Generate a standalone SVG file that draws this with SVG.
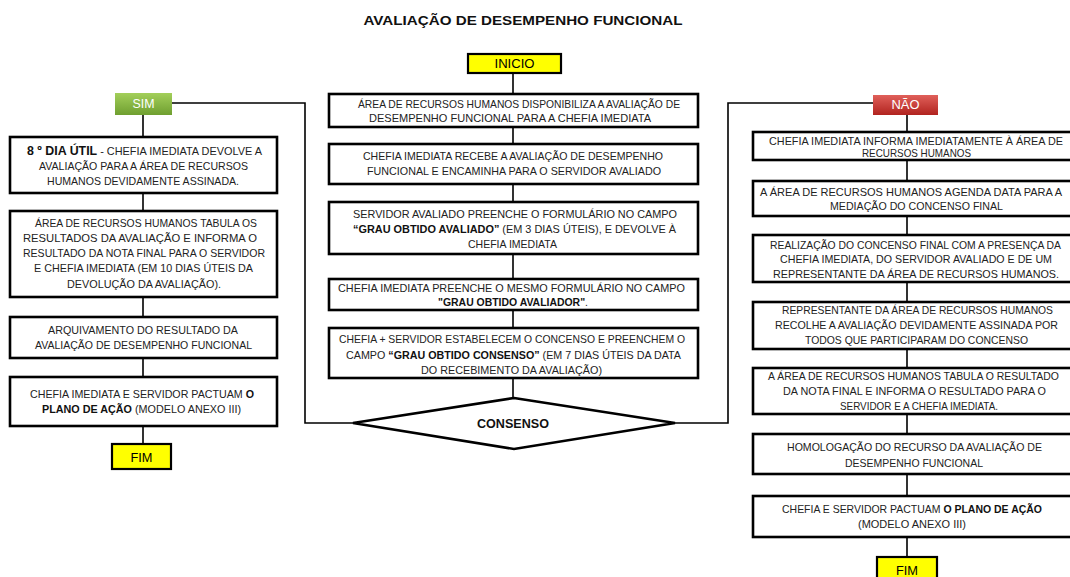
<svg xmlns="http://www.w3.org/2000/svg" width="1070" height="577" viewBox="0 0 1070 577">
<defs>
<linearGradient id="gGreen" x1="0" y1="0" x2="0" y2="1"><stop offset="0" stop-color="#a3cf5a"/><stop offset="1" stop-color="#6f9f30"/></linearGradient>
<linearGradient id="gRed" x1="0" y1="0" x2="0" y2="1"><stop offset="0" stop-color="#e0605a"/><stop offset="1" stop-color="#b1231f"/></linearGradient>
<style>
.box{fill:#fff;stroke:#000;stroke-width:2.6}
.term{fill:#ffff00;stroke:#000;stroke-width:2.2}
.t{font-family:"Liberation Sans",Arial,sans-serif;font-size:11px;fill:#222;text-anchor:middle}
.b{font-weight:bold;fill:#111}
.lbl{font-family:"Liberation Sans",Arial,sans-serif;font-size:12px;text-anchor:middle}
.w{fill:#fff}
.ln{fill:none;stroke:#000;stroke-width:1.6}
</style>
</defs>
<rect width="1070" height="577" fill="#fff"/>
<text x="523" y="25" class="lbl b" font-size="13.5" textLength="319" lengthAdjust="spacingAndGlyphs">AVALIAÇÃO DE DESEMPENHO FUNCIONAL</text>

<g id="connectors">
<path class="ln" d="M513,73V94M513,127V144M513,184V202M513,254V279M513,310V328M513,378V398"/>
<path class="ln" d="M172,103H305V423H353"/>
<path class="ln" d="M143,115V137M143,193V211M143,297V317M143,358V377M143,426V444"/>
<path class="ln" d="M675,423H728V103H873"/>
<path class="ln" d="M907,115V132M907,160V181M907,216V235M907,282V302M907,349V368M907,414V434M907,474V496M907,537V557"/>
</g>

<g id="inicio"><rect class="term" x="468" y="54" width="93" height="19"/><text class="lbl" x="514.5" y="68" textLength="40" lengthAdjust="spacingAndGlyphs">INICIO</text></g>

<g id="c1"><rect class="box" x="329" y="94" width="369" height="33"/>
<text class="t" x="519" y="108" textLength="322" lengthAdjust="spacingAndGlyphs">ÁREA DE RECURSOS HUMANOS DISPONIBILIZA A AVALIAÇÃO DE</text>
<text class="t" x="510" y="122" textLength="282" lengthAdjust="spacingAndGlyphs">DESEMPENHO FUNCIONAL PARA A CHEFIA IMEDIATA</text></g>

<g id="c2"><rect class="box" x="329" y="144" width="369" height="40"/>
<text class="t" x="513" y="160" textLength="300" lengthAdjust="spacingAndGlyphs">CHEFIA IMEDIATA RECEBE A AVALIAÇÃO DE DESEMPENHO</text>
<text class="t" x="514" y="175" textLength="294" lengthAdjust="spacingAndGlyphs">FUNCIONAL E ENCAMINHA PARA O SERVIDOR AVALIADO</text></g>

<g id="c3"><rect class="box" x="329" y="202" width="369" height="52"/>
<text class="t" x="515" y="218" textLength="324" lengthAdjust="spacingAndGlyphs">SERVIDOR AVALIADO PREENCHE O FORMULÁRIO NO CAMPO</text>
<text class="t" x="514.5" y="233" textLength="323" lengthAdjust="spacingAndGlyphs"><tspan class="b">“GRAU OBTIDO AVALIADO”</tspan> (EM 3 DIAS ÚTEIS), E DEVOLVE À</text>
<text class="t" x="512.5" y="248" textLength="89" lengthAdjust="spacingAndGlyphs">CHEFIA IMEDIATA</text></g>

<g id="c4"><rect class="box" x="329" y="279" width="369" height="31"/>
<text class="t" x="511.5" y="292" textLength="347" lengthAdjust="spacingAndGlyphs">CHEFIA IMEDIATA PREENCHE O MESMO FORMULÁRIO NO CAMPO</text>
<text class="t" x="513" y="306" textLength="150" lengthAdjust="spacingAndGlyphs"><tspan class="b">"GRAU OBTIDO AVALIADOR"</tspan>.</text></g>

<g id="c5"><rect class="box" x="329" y="328" width="369" height="50"/>
<text class="t" x="512" y="343" textLength="346" lengthAdjust="spacingAndGlyphs">CHEFIA + SERVIDOR ESTABELECEM O CONCENSO E PREENCHEM O</text>
<text class="t" x="513.5" y="359" textLength="335" lengthAdjust="spacingAndGlyphs">CAMPO <tspan class="b">“GRAU OBTIDO CONSENSO”</tspan> (EM 7 DIAS ÚTEIS DA DATA</text>
<text class="t" x="511.5" y="374" textLength="181" lengthAdjust="spacingAndGlyphs">DO RECEBIMENTO DA AVALIAÇÃO)</text></g>

<g id="consenso"><polygon points="514,398 675,423 514,449 353,423" fill="#fff" stroke="#000" stroke-width="2.6"/>
<text class="lbl b" x="513" y="428" textLength="72" lengthAdjust="spacingAndGlyphs">CONSENSO</text></g>

<g id="sim"><rect x="115" y="93" width="57" height="22" fill="url(#gGreen)"/><text class="lbl w" x="143.5" y="108" textLength="22" lengthAdjust="spacingAndGlyphs">SIM</text></g>

<g id="l1"><rect class="box" x="10" y="137" width="267" height="56"/>
<text class="t" x="144.5" y="155" textLength="235" lengthAdjust="spacingAndGlyphs"><tspan class="b" font-size="12.5">8 º DIA ÚTIL</tspan> - CHEFIA IMEDIATA DEVOLVE A</text>
<text class="t" x="143.5" y="170" textLength="209" lengthAdjust="spacingAndGlyphs">AVALIAÇÃO PARA A ÁREA DE RECURSOS</text>
<text class="t" x="143" y="185" textLength="192" lengthAdjust="spacingAndGlyphs">HUMANOS DEVIDAMENTE ASSINADA.</text></g>

<g id="l2"><rect class="box" x="10" y="211" width="267" height="86"/>
<text class="t" x="146" y="227" textLength="222" lengthAdjust="spacingAndGlyphs">ÁREA DE RECURSOS HUMANOS TABULA OS</text>
<text class="t" x="140" y="242" textLength="234" lengthAdjust="spacingAndGlyphs">RESULTADOS DA AVALIAÇÃO E INFORMA O</text>
<text class="t" x="144" y="257" textLength="242" lengthAdjust="spacingAndGlyphs">RESULTADO DA NOTA FINAL PARA O SERVIDOR</text>
<text class="t" x="143.5" y="272" textLength="219" lengthAdjust="spacingAndGlyphs">E CHEFIA IMEDIATA (EM 10 DIAS ÚTEIS DA</text>
<text class="t" x="144" y="288" textLength="154" lengthAdjust="spacingAndGlyphs">DEVOLUÇÃO DA AVALIAÇÃO).</text></g>

<g id="l3"><rect class="box" x="10" y="317" width="267" height="41"/>
<text class="t" x="143" y="334" textLength="190" lengthAdjust="spacingAndGlyphs">ARQUIVAMENTO DO RESULTADO DA</text>
<text class="t" x="143.5" y="349" textLength="217" lengthAdjust="spacingAndGlyphs">AVALIAÇÃO DE DESEMPENHO FUNCIONAL</text></g>

<g id="l4"><rect class="box" x="10" y="377" width="267" height="49"/>
<text class="t" x="142" y="398" textLength="224" lengthAdjust="spacingAndGlyphs">CHEFIA IMEDIATA E SERVIDOR PACTUAM <tspan class="b">O</tspan></text>
<text class="t" x="141.5" y="413" textLength="199" lengthAdjust="spacingAndGlyphs"><tspan class="b">PLANO DE AÇÃO</tspan> (MODELO ANEXO III)</text></g>

<g id="fim1"><rect class="term" x="112" y="444" width="59" height="25"/><text class="lbl" x="141.5" y="462" textLength="22" lengthAdjust="spacingAndGlyphs">FIM</text></g>

<g id="nao"><rect x="873" y="95" width="65" height="20" fill="url(#gRed)"/><text class="lbl w" x="905.5" y="109" textLength="28" lengthAdjust="spacingAndGlyphs">NÃO</text></g>

<g id="r1"><rect class="box" x="753" y="132" width="330" height="28"/>
<text class="t" x="916" y="145" textLength="294" lengthAdjust="spacingAndGlyphs">CHEFIA IMEDIATA INFORMA IMEDIATAMENTE À ÁREA DE</text>
<text class="t" x="916.5" y="157" textLength="109" lengthAdjust="spacingAndGlyphs">RECURSOS HUMANOS</text></g>

<g id="r2"><rect class="box" x="753" y="181" width="330" height="35"/>
<text class="t" x="911" y="196" textLength="302" lengthAdjust="spacingAndGlyphs">A ÁREA DE RECURSOS HUMANOS AGENDA DATA PARA A</text>
<text class="t" x="916.5" y="210" textLength="173" lengthAdjust="spacingAndGlyphs">MEDIAÇÃO DO CONCENSO FINAL</text></g>

<g id="r3"><rect class="box" x="753" y="235" width="330" height="47"/>
<text class="t" x="915.5" y="249" textLength="291" lengthAdjust="spacingAndGlyphs">REALIZAÇÃO DO CONCENSO FINAL COM A PRESENÇA DA</text>
<text class="t" x="916" y="263" textLength="272" lengthAdjust="spacingAndGlyphs">CHEFIA IMEDIATA, DO SERVIDOR AVALIADO E DE UM</text>
<text class="t" x="916" y="278" textLength="286" lengthAdjust="spacingAndGlyphs">REPRESENTANTE DA ÁREA DE RECURSOS HUMANOS.</text></g>

<g id="r4"><rect class="box" x="753" y="302" width="330" height="47"/>
<text class="t" x="917.5" y="314" textLength="271" lengthAdjust="spacingAndGlyphs">REPRESENTANTE DA ÁREA DE RECURSOS HUMANOS</text>
<text class="t" x="916.5" y="329" textLength="283" lengthAdjust="spacingAndGlyphs">RECOLHE A AVALIAÇÃO DEVIDAMENTE ASSINADA POR</text>
<text class="t" x="916.5" y="344" textLength="223" lengthAdjust="spacingAndGlyphs">TODOS QUE PARTICIPARAM DO CONCENSO</text></g>

<g id="r5"><rect class="box" x="753" y="368" width="330" height="46"/>
<text class="t" x="913.5" y="380" textLength="291" lengthAdjust="spacingAndGlyphs">A ÁREA DE RECURSOS HUMANOS TABULA O RESULTADO</text>
<text class="t" x="914.5" y="395" textLength="263" lengthAdjust="spacingAndGlyphs">DA NOTA FINAL E INFORMA O RESULTADO PARA O</text>
<text class="t" x="919" y="410" textLength="158" lengthAdjust="spacingAndGlyphs">SERVIDOR E A CHEFIA IMEDIATA.</text></g>

<g id="r6"><rect class="box" x="753" y="434" width="330" height="40"/>
<text class="t" x="914.5" y="451" textLength="255" lengthAdjust="spacingAndGlyphs">HOMOLOGAÇÃO DO RECURSO DA AVALIAÇÃO DE</text>
<text class="t" x="914" y="467" textLength="138" lengthAdjust="spacingAndGlyphs">DESEMPENHO FUNCIONAL</text></g>

<g id="r7"><rect class="box" x="753" y="496" width="330" height="41"/>
<text class="t" x="912" y="513" textLength="260" lengthAdjust="spacingAndGlyphs">CHEFIA E SERVIDOR PACTUAM <tspan class="b">O PLANO DE AÇÃO</tspan></text>
<text class="t" x="912" y="528" textLength="108" lengthAdjust="spacingAndGlyphs">(MODELO ANEXO III)</text></g>

<g id="fim2"><rect class="term" x="877" y="557" width="60" height="25"/><text class="lbl" x="907" y="575" textLength="22" lengthAdjust="spacingAndGlyphs">FIM</text></g>
</svg>
